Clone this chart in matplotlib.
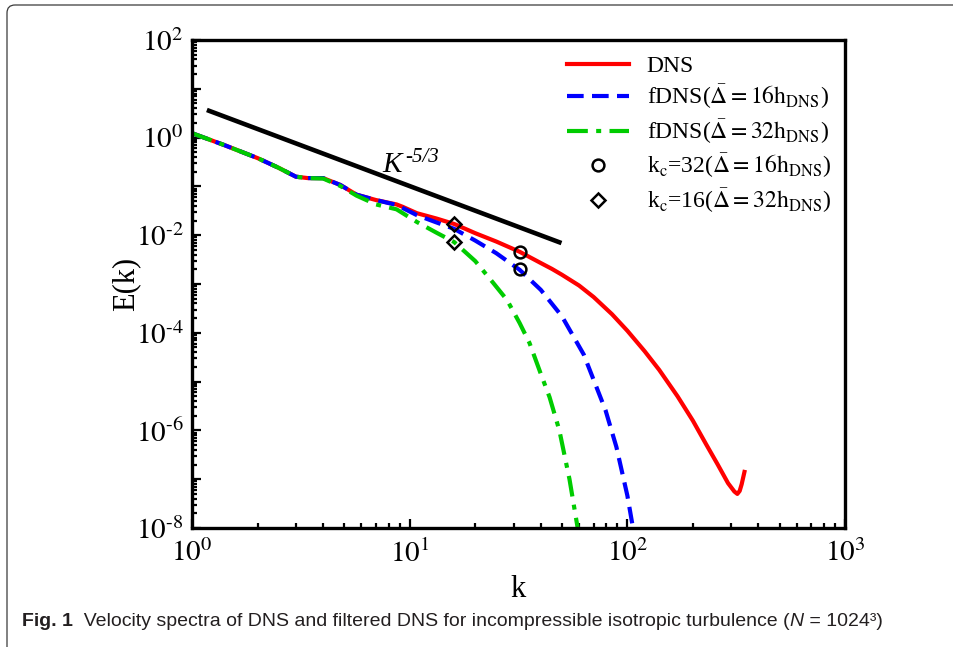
import numpy as np
import matplotlib
matplotlib.use("Agg")
import matplotlib.pyplot as plt
import matplotlib.ticker as mticker
from matplotlib.patches import FancyBboxPatch
from matplotlib.transforms import IdentityTransform

plt.rcParams['font.family'] = ['Liberation Serif', 'DejaVu Serif']
plt.rcParams['mathtext.fontset'] = 'stix'

# energy spectrum of the DNS field
k_dns = [1, 1.4, 2, 2.5, 3, 3.4, 4, 4.8, 5.7, 7, 8.7, 9.3, 10.8, 13.3, 16, 20, 25, 32,
         40, 45, 50, 60, 70, 85, 100, 120, 140, 170, 200, 230, 260, 290, 310, 320, 328,
         335, 345]
E_dns = [1.23, 0.708, 0.380, 0.240, 0.158, 0.148, 0.148, 0.107, 0.0676, 0.0525, 0.0427,
         0.0380, 0.0282, 0.0219, 0.0170, 0.0110, 0.00741, 0.00457, 0.00269, 0.00204,
         0.00155, 9.3e-4, 5.4e-4, 2.4e-4, 1.1e-4, 4.2e-5, 1.74e-5, 5.0e-6, 1.58e-6,
         5.2e-7, 2.0e-7, 8.3e-8, 5.6e-8, 5.0e-8, 5.75e-8, 7.9e-8, 1.41e-7]

# filtered DNS, filter width 16 h_DNS
k_f16 = [1, 1.4, 2, 2.5, 3, 3.4, 4, 4.8, 5.7, 7, 8.7, 10.8, 13.3, 16, 20, 25, 32, 40,
         50, 63, 79.4, 89, 100, 107]
E_f16 = [1.23, 0.708, 0.380, 0.240, 0.158, 0.148, 0.148, 0.107, 0.0676, 0.0525, 0.0417,
         0.0257, 0.0182, 0.0135, 0.00776, 0.00427, 0.00195, 7.6e-4, 2.19e-4, 3.6e-5,
         2.57e-6, 4.6e-7, 4.6e-8, 8.1e-9]

# filtered DNS, filter width 32 h_DNS
k_f32 = [1, 1.4, 2, 2.5, 3, 3.4, 4, 4.8, 5.7, 7, 8.7, 10.8, 13.3, 16, 20, 24, 28, 32,
         35.5, 40, 43.9, 48.7, 54.2, 59, 62]
E_f32 = [1.23, 0.708, 0.380, 0.240, 0.158, 0.148, 0.145, 0.102, 0.0646, 0.0427, 0.0339,
         0.0186, 0.0112, 0.00724, 0.00295, 0.00110, 4.7e-4, 1.58e-4, 6.2e-5, 1.45e-5,
         4.8e-6, 1.0e-6, 1.0e-7, 1.05e-8, 3.2e-9]

# cut-off wavenumbers
kc32_k = [32, 32]
kc32_E = [0.0046, 0.0020]
kc16_k = [16, 16]
kc16_E = [0.017, 0.0073]

# Kolmogorov reference slope
ref_k = [1.17, 49.8]
ref_E = [3.68, 0.0069]

fig = plt.figure(figsize=(9.54, 6.47), dpi=100)
ax = fig.add_axes([0.2013, 0.1839, 0.6845, 0.7543])

ax.plot(ref_k, ref_E, color='black', lw=3.3, solid_capstyle='butt')
l1, = ax.plot(k_dns, E_dns, color='#ff0000', lw=3.0, label='DNS')
l2, = ax.plot(k_f16, E_f16, color='#0000ff', lw=3.0, ls=(0, (4, 2)),
              label=r'fDNS($\bar{\Delta}=16\mathrm{h}_{\mathrm{DNS}}$)')
l3, = ax.plot(k_f32, E_f32, color='#00cc00', lw=3.0, ls=(0, (5, 2, 1.2, 2)),
              label=r'fDNS($\bar{\Delta}=32\mathrm{h}_{\mathrm{DNS}}$)')
m1, = ax.plot(kc32_k, kc32_E, ls='none', marker='o', ms=8.5, mfc='none', mec='black',
              mew=1.8, label=r'k$_{\mathrm{c}}$=32($\bar{\Delta}=16\mathrm{h}_{\mathrm{DNS}}$)')
m2, = ax.plot(kc16_k, kc16_E, ls='none', marker='D', ms=7.5, mfc='none', mec='black',
              mew=1.8, label=r'k$_{\mathrm{c}}$=16($\bar{\Delta}=32\mathrm{h}_{\mathrm{DNS}}$)')

# slope annotation
kt = ax.text(7.45, 0.2, 'K', fontsize=21, style='italic', va='baseline')
ax.annotate('-5/3', xy=(1, 1), xycoords=kt, xytext=(3, 3), textcoords='offset points',
            fontsize=15, style='italic', ha='left', va='top')

ax.set_xscale('log')
ax.set_yscale('log')
ax.set_xlim(1, 1000)
ax.set_ylim(1e-8, 1e2)

ax.xaxis.set_major_locator(mticker.LogLocator(base=10, numticks=10))
ax.xaxis.set_minor_locator(mticker.LogLocator(base=10, subs=np.arange(2, 10), numticks=10))
ax.yaxis.set_major_locator(mticker.LogLocator(base=10, subs=(1.0,), numticks=20))
ax.yaxis.set_minor_locator(mticker.LogLocator(base=10, subs=np.arange(2, 10), numticks=20))


def decade_label(v, pos):
    e = int(round(np.log10(v)))
    return r'$10^{\text{%d}}$' % e


def even_decades(v, pos):
    e = int(round(np.log10(v)))
    return decade_label(v, pos) if e % 2 == 0 else ''


ax.yaxis.set_major_formatter(mticker.FuncFormatter(even_decades))
ax.xaxis.set_major_formatter(mticker.FuncFormatter(decade_label))
ax.yaxis.set_minor_formatter(mticker.NullFormatter())
ax.xaxis.set_minor_formatter(mticker.NullFormatter())

ax.tick_params(which='both', direction='in', top=False, right=False, labelsize=21, width=1.6)
ax.tick_params(which='major', length=6.5)
ax.tick_params(which='minor', length=3.8)
ax.tick_params(axis='x', which='major', pad=8)
ax.tick_params(axis='y', which='major', pad=6)
for s in ax.spines.values():
    s.set_linewidth(2.4)

ax.set_xlabel('k', fontsize=22)
ax.set_ylabel('E(k)', fontsize=22)
ax.xaxis.set_label_coords(0.5, -0.097)
ax.yaxis.set_label_coords(-0.08, 0.50)

ax.legend(handles=[l1, l2, l3, m1, m2], loc='upper left', bbox_to_anchor=(0.55, 1.0),
          frameon=False, fontsize=17, handlelength=2.63, handletextpad=0.76,
          labelspacing=0.25, borderaxespad=0.25)

# caption under the plot
cap_font = ['Liberation Sans Narrow', 'Liberation Sans']
cap1 = fig.text(22 / 954, 1 - 630 / 647, 'Fig. 1', fontsize=14, fontweight='bold',
                family=cap_font, va='bottom', color='#231f20')
cap2 = ax.annotate('  Velocity spectra of DNS and filtered DNS for incompressible isotropic turbulence (',
                   xy=(1, 0), xycoords=cap1, va='bottom', fontsize=14,
                   family=cap_font, color='#231f20', annotation_clip=False)
cap3 = ax.annotate('N', xy=(1, 0), xycoords=cap2, va='bottom', fontsize=14, style='italic',
                   family=cap_font, color='#231f20', annotation_clip=False)
ax.annotate(' = 1024\u00b3)', xy=(1, 0), xycoords=cap3, va='bottom', fontsize=14,
            family=cap_font, color='#231f20', annotation_clip=False)

# rounded panel frame
frame = FancyBboxPatch((7, -30), 1000, 642 + 30, boxstyle='round,pad=0,rounding_size=8',
                       transform=IdentityTransform(), fill=False, ec='#3a3a3a', lw=0.9)
fig.add_artist(frame)

fig.savefig('out.png', dpi=100)
